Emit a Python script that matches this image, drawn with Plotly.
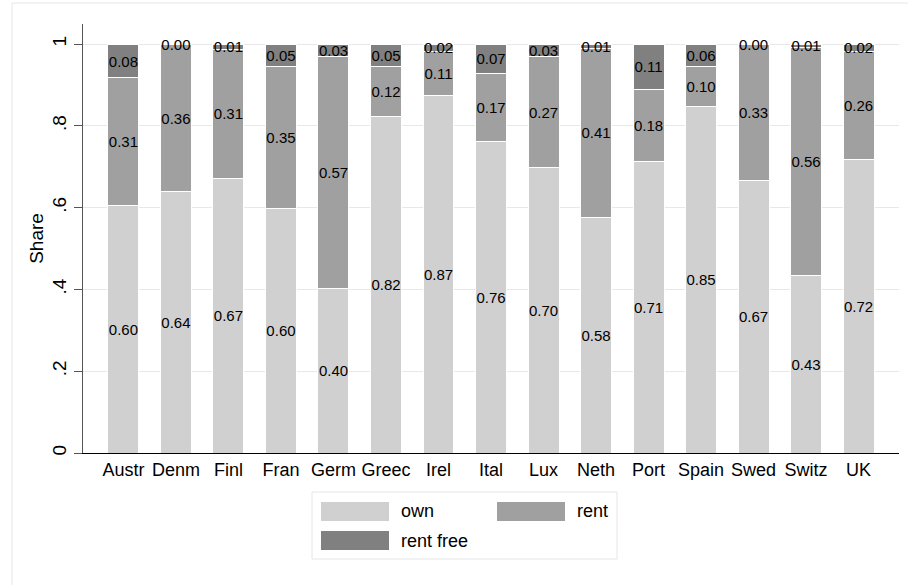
import plotly.graph_objects as go

countries = ["Austr", "Denm", "Finl", "Fran", "Germ", "Greec", "Irel", "Ital",
             "Lux", "Neth", "Port", "Spain", "Swed", "Switz", "UK"]
own = [0.604, 0.640, 0.672, 0.598, 0.402, 0.822, 0.873, 0.762,
       0.697, 0.577, 0.713, 0.848, 0.666, 0.433, 0.718]
rent = [0.313, 0.358, 0.314, 0.348, 0.567, 0.124, 0.108, 0.166,
        0.273, 0.411, 0.176, 0.096, 0.332, 0.558, 0.263]
rent_free = [0.083, 0.002, 0.014, 0.054, 0.031, 0.054, 0.019, 0.072,
             0.030, 0.012, 0.111, 0.056, 0.002, 0.009, 0.019]
series_names = ["own", "rent", "rent free"]
colors = ["#d0d0d0", "#a0a0a0", "#808080"]
ytick_vals = [0, 0.2, 0.4, 0.6, 0.8, 1]
ytick_text = ["0", ".2", ".4", ".6", ".8", "1"]

FONT = "Liberation Sans, Arial, sans-serif"
W, H = 908, 585
L, R, T, B = 83, 9, 24, 132
PW, PH = W - L - R, H - T - B


def px(x):
    return (x - L) / PW


def py(y):
    return (H - B - y) / PH


fig = go.Figure()
for name, vals, col in zip(series_names, [own, rent, rent_free], colors):
    fig.add_trace(go.Bar(
        x=countries, y=vals, name=name,
        marker=dict(color=col, line=dict(color="white", width=1)),
        text=vals, texttemplate="%{y:.2f}", textposition="inside",
        insidetextanchor="middle", textangle=0,
        textfont=dict(color="black", size=15, family=FONT),
        showlegend=False, width=0.59,
    ))

fig.update_layout(
    barmode="stack",
    width=W, height=H,
    margin=dict(l=L, r=R, t=T, b=B, autoexpand=False),
    plot_bgcolor="white", paper_bgcolor="white",
    font=dict(family=FONT, size=16, color="black"),
    uniformtext=dict(minsize=15, mode="show"),
    xaxis=dict(range=[-0.77, 14.77], showline=True, linecolor="black",
               linewidth=1, ticks="", showgrid=False,
               tickfont=dict(size=18, color="black")),
    yaxis=dict(range=[0, 1.049], tickvals=ytick_vals, ticktext=ytick_text,
               tickangle=-90, ticks="outside", ticklen=8, tickcolor="#555555",
               showline=True, linecolor="#555555", linewidth=1,
               showgrid=True, gridcolor="#e8e8e8", gridwidth=1,
               zeroline=False,
               title=dict(text="Share", font=dict(size=19), standoff=0),
               tickfont=dict(size=19, color="black")),
)

shapes = []
# outer frame
shapes.append(dict(type="rect", xref="paper", yref="paper",
                   x0=px(12), x1=px(W + 20), y0=py(H + 20), y1=py(3),
                   line=dict(color="#e6e6e6", width=1), fillcolor="rgba(0,0,0,0)",
                   layer="below"))
# legend box
shapes.append(dict(type="rect", xref="paper", yref="paper",
                   x0=px(312), x1=px(617), y0=py(559), y1=py(492),
                   line=dict(color="#e6e6e6", width=1), fillcolor="white"))
legend_pos = [(321, 502), (497, 502), (321, 531)]
text_x = [399, 575, 399]
for (sx, sy), tx, name, col in zip(legend_pos, text_x, series_names, colors):
    shapes.append(dict(type="rect", xref="paper", yref="paper",
                       x0=px(sx), x1=px(sx + 68), y0=py(sy + 19), y1=py(sy),
                       line=dict(width=0), fillcolor=col))
    fig.add_annotation(x=px(tx), y=py(sy + 9.5), xref="paper", yref="paper",
                       text=name, showarrow=False, xanchor="left",
                       yanchor="middle", font=dict(size=18, color="black"))
fig.update_layout(shapes=shapes)

fig.write_html("out.html",
               config={"displayModeBar": False},
               post_script="document.body.style.margin='0';"
                           "document.body.style.overflow='hidden';")
